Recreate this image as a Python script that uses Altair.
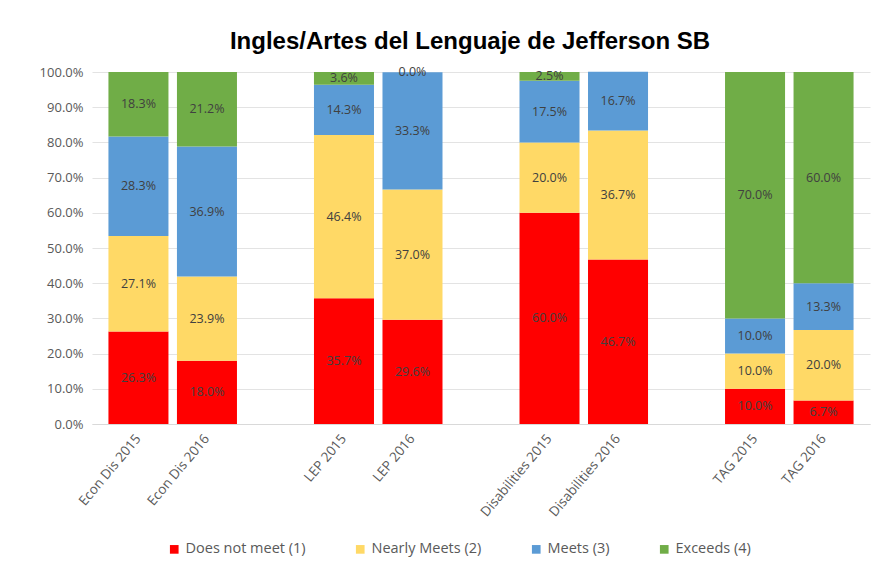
import altair as alt
import pandas as pd

categories = ["Econ Dis 2015", "Econ Dis 2016", "LEP 2015", "LEP 2016",
              "Disabilities 2015", "Disabilities 2016", "TAG 2015", "TAG 2016"]
levels = ["Does not meet (1)", "Nearly Meets (2)", "Meets (3)", "Exceeds (4)"]
does_not_meet = [26.3, 18.0, 35.7, 29.6, 60.0, 46.7, 10.0, 6.7]
nearly_meets = [27.1, 23.9, 46.4, 37.0, 20.0, 36.7, 10.0, 20.0]
meets = [28.3, 36.9, 14.3, 33.3, 17.5, 16.7, 10.0, 13.3]
exceeds = [18.3, 21.2, 3.6, 0.0, 2.5, None, 70.0, 60.0]
colors = ["#FF0000", "#FFD966", "#5B9BD5", "#70AD47"]
x_domain = ["Econ Dis 2015", "Econ Dis 2016", " ", "LEP 2015", "LEP 2016", "  ",
            "Disabilities 2015", "Disabilities 2016", "   ", "TAG 2015", "TAG 2016"]
y_ticks = [0, 0.1, 0.2, 0.3, 0.4, 0.5, 0.6, 0.7, 0.8, 0.9, 1.0]

rows = []
for series, vals in zip(levels, [does_not_meet, nearly_meets, meets, exceeds]):
    for cat, v in zip(categories, vals):
        rows.append({"cat": cat, "level": series, "order": levels.index(series),
                     "value": (v if v is not None else 0) / 100,
                     "show": v is not None})
df = pd.DataFrame(rows)

font = "Open Sans"
gray = "#595959"
x = alt.X("cat:N", scale=alt.Scale(domain=x_domain, paddingInner=0.124, paddingOuter=0.24),
          axis=alt.Axis(title=None, labelAngle=-50, labelFontSize=13.5, labelColor=gray,
                        labelFont=font, ticks=False, domainColor="#d9d9d9", labelPadding=12))
yscale = alt.Scale(domain=[0, 1], nice=False)
yaxis = alt.Axis(title=None, format=".1%", values=y_ticks, labelFontSize=13,
                 labelColor=gray, labelFont=font, ticks=False, domain=False,
                 gridColor="#e3e3e3", labelPadding=9, labelOverlap=False)

base = alt.Chart(df).transform_stack(
    stack="value", groupby=["cat"], as_=["y0", "y1"],
    sort=[alt.SortField("order", "ascending")]
)

bars = base.mark_bar().encode(
    x=x,
    y=alt.Y("y0:Q", scale=yscale, axis=yaxis),
    y2="y1:Q",
    color=alt.Color("level:N", scale=alt.Scale(domain=levels, range=colors),
                    legend=alt.Legend(title=None, orient="none", direction="horizontal",
                                      legendX=75, legendY=470,
                                      symbolType="square", symbolSize=75, labelFontSize=14.5,
                                      labelColor=gray, labelFont=font, columnPadding=47,
                                      symbolStrokeWidth=0)),
)

labels = base.transform_filter("datum.show").transform_calculate(
    mid="(datum.y0 + datum.y1) / 2"
).mark_text(fontSize=12.5, font=font, color="#404040").encode(
    x=x,
    y=alt.Y("mid:Q", scale=yscale, axis=yaxis),
    text=alt.Text("value:Q", format=".1%"),
)

chart = alt.layer(bars, labels).properties(
    width=778, height=352,
    title=alt.TitleParams("Ingles/Artes del Lenguaje de Jefferson SB", font="Liberation Sans",
                          fontSize=24, fontWeight="bold", color="#000000", anchor="middle",
                          offset=12, dx=-11),
    padding={"left": 31, "top": 22, "right": 5, "bottom": 5},
).configure_view(stroke=None)

chart.save("out.html", embed_options={"renderer": "svg", "actions": False})
